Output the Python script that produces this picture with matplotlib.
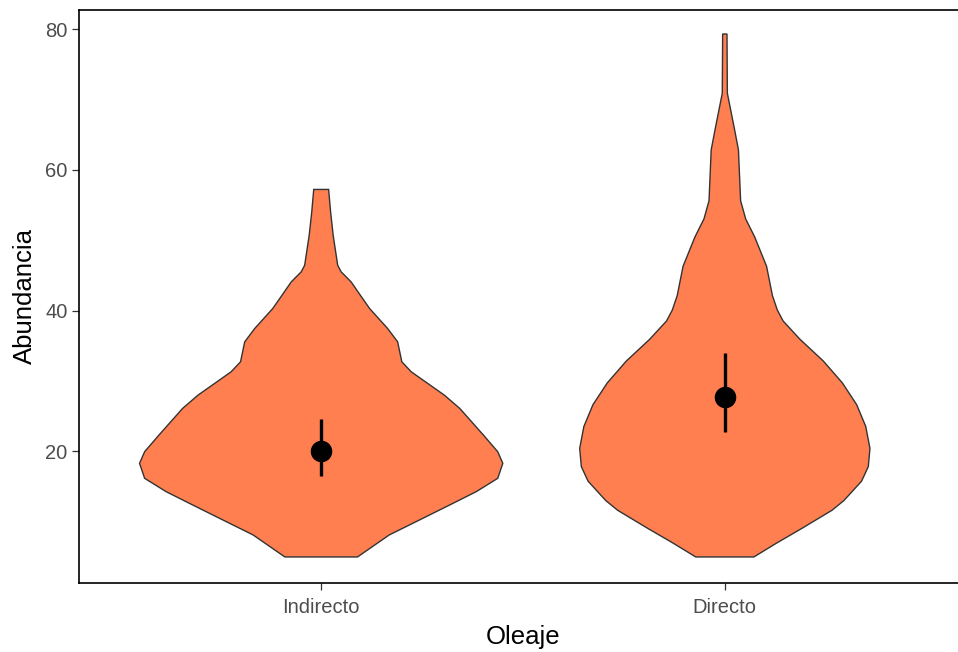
import matplotlib
matplotlib.use("Agg")
import matplotlib.pyplot as plt
import numpy as np

plt.rcParams['font.family'] = ['Liberation Sans', 'DejaVu Sans']

categories = ["Indirecto", "Directo"]

# Violin outlines: abundance level and relative density (1 = widest)
indirecto_y = [5.0, 8.13, 10.02, 12.39, 14.28, 16.17, 18.30, 19.95, 22.32, 26.10, 27.99,
               31.30, 32.72, 35.56, 37.45, 40.28, 42.2, 44.07, 45.5, 46.43, 50.69, 54.0, 57.21]
indirecto_dens = [0.20, 0.375, 0.523, 0.708, 0.854, 0.972, 1.0, 0.972, 0.893, 0.763, 0.678,
                  0.496, 0.444, 0.421, 0.366, 0.267, 0.215, 0.165, 0.110, 0.091, 0.066, 0.052, 0.041]

directo_y = [5.0, 6.97, 9.04, 11.63, 13.0, 14.21, 15.77, 17.84, 20.43, 23.53, 26.63, 29.73,
             32.84, 35.94, 38.52, 40.08, 42.14, 46.28, 50.43, 53.01, 55.60, 62.84, 65.94,
             70.87, 79.29]
directo_dens = [0.160, 0.285, 0.423, 0.590, 0.655, 0.698, 0.753, 0.790, 0.799, 0.776, 0.726, 0.647,
                0.542, 0.413, 0.321, 0.289, 0.262, 0.230, 0.165, 0.115, 0.087, 0.075, 0.052,
                0.014, 0.012]

# Mean and error bar limits
means = [20.1, 27.7]
lower = [16.5, 22.8]
upper = [24.6, 34.0]

W = 958 / 100.0
H = 652 / 100.0
fig = plt.figure(figsize=(W, H), dpi=100)
L, R, T, B = 79, 967, 10, 583
ax = fig.add_axes([L / 958, (652 - B) / 652, (R - L) / 958, (B - T) / 652])

fill = "#FF7F50"
edge = "#333333"
maxw = 0.45

for i, (ys, ds) in enumerate([(indirecto_y, indirecto_dens), (directo_y, directo_dens)]):
    xc = i + 1
    ys = np.asarray(ys)
    hw = np.asarray(ds) * maxw
    px = np.concatenate([xc - hw, (xc + hw)[::-1]])
    py = np.concatenate([ys, ys[::-1]])
    ax.fill(px, py, facecolor=fill, edgecolor=edge, linewidth=1.0, zorder=2)

xs = np.arange(1, len(categories) + 1)
ax.vlines(xs, lower, upper, colors="black", linewidth=2.4, zorder=3)
ax.plot(xs, means, "o", color="black", markersize=14.5, zorder=4)

ax.set_xlim(0.4, 2.6)
ax.set_ylim(1.3, 82.7)
ax.set_xticks(xs)
ax.set_xticklabels(categories)
ax.set_yticks([20, 40, 60, 80])

for s in ax.spines.values():
    s.set_linewidth(1.2)
    s.set_color("black")

ax.tick_params(axis="both", length=4.7, width=0.9, color="#333333",
               labelsize=14.5, labelcolor="#4D4D4D", pad=3.5)
ax.tick_params(axis="x", pad=6)
ax.set_xlabel("Oleaje", fontsize=18.5, color="black", labelpad=6)
ax.set_ylabel("Abundancia", fontsize=18.5, color="black", labelpad=6)

fig.savefig("out.png", dpi=100)
